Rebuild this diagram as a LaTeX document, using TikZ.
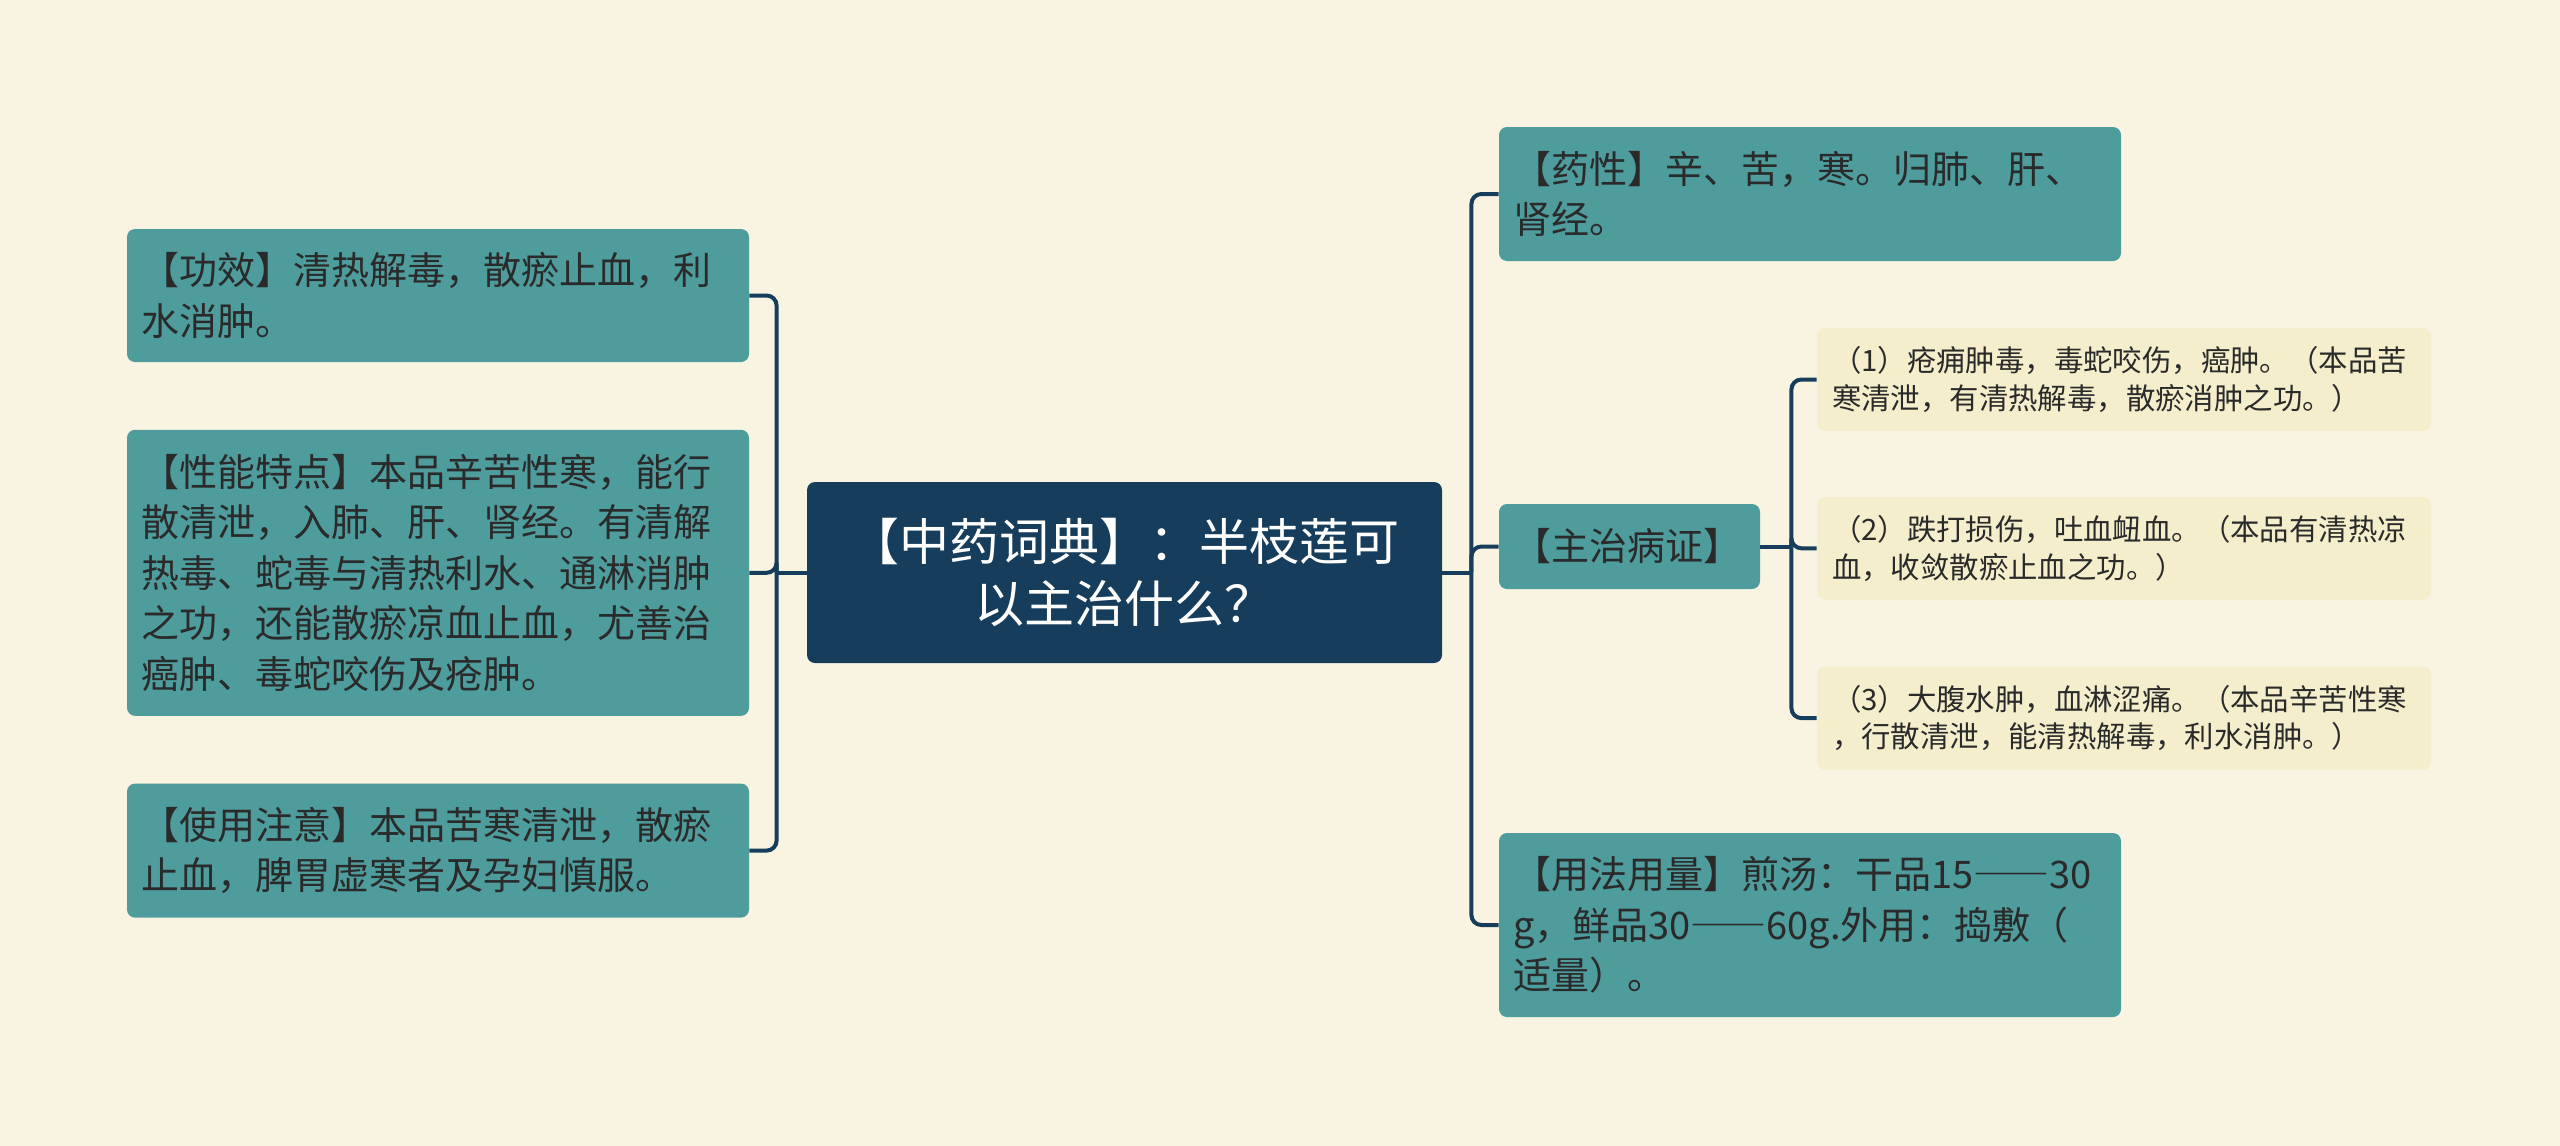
\documentclass[tikz,border=0pt]{standalone}
\usepackage{fontspec}
\newfontfamily\cjk{Noto Sans CJK SC}
\newcommand{\widedash}{{\addfontfeatures{RawFeature=+fwid}——}}
\usepackage{tikz}
\usetikzlibrary{positioning, calc}
\definecolor{stpaper}{HTML}{F9F4E1}
\definecolor{stteal}{HTML}{4E9C9B}
\definecolor{stnavy}{HTML}{173D5C}
\definecolor{stcream}{HTML}{F4EECD}
\definecolor{stink}{HTML}{2A2A2A}

\begin{document}
\begin{tikzpicture}[
  x=0.5pt, y=-0.5pt,
  node distance=33.5pt,
  rootbox/.style={
    rectangle, rounded corners=4pt, fill=stnavy, text=white,
    minimum width=317.5pt, minimum height=90.5pt, text width=300pt,
    font=\cjk\fontsize{25}{31}\selectfont, align=center
  },
  branch/.style={
    rectangle, rounded corners=4pt, fill=stteal, text=stink,
    minimum width=311pt, text width=297pt, inner xsep=7pt,
    font=\cjk\fontsize{19}{25.2}\selectfont, align=left
  },
  leaf/.style={
    rectangle, rounded corners=4pt, fill=stcream, text=stink,
    minimum width=307pt, minimum height=51.5pt, text width=292pt, inner xsep=7.5pt,
    font=\cjk\fontsize{14.7}{18.8}\selectfont, align=left
  },
  link/.style={line width=2pt, color=stnavy, rounded corners=5pt},
]
\useasboundingbox[fill=stpaper] (0,0) rectangle (2560,1146);

% Root
\node[rootbox] (root) at (1124.5,572.5) {【中药词典】：半枝莲可\\以主治什么？};

% Left side
\node[branch, minimum height=66.5pt] (gongxiao) at (438,295.5)
  {【功效】清热解毒，散瘀止血，利\\水消肿。};
\node[branch, minimum height=143pt, below=of gongxiao] (xingneng)
  {【性能特点】本品辛苦性寒，能行\\散清泄，入肺、肝、肾经。有清解\\热毒、蛇毒与清热利水、通淋消肿\\之功，还能散瘀凉血止血，尤善治\\癌肿、毒蛇咬伤及疮肿。};
\node[branch, minimum height=67pt, below=of xingneng] (shiyong)
  {【使用注意】本品苦寒清泄，散瘀\\止血，脾胃虚寒者及孕妇慎服。};

% Right side
\node[branch, minimum height=67pt] (yaoxing) at (1810,194)
  {【药性】辛、苦，寒。归肺、肝、\\肾经。};
\node[branch, minimum width=130.5pt, text width=116.5pt, minimum height=42.5pt] (zhuzhi) at (1629.5,546.5)
  {【主治病证】};
\node[branch, minimum height=92pt] (yongfa) at (1810,925)
  {【用法用量】煎汤：干品15\widedash30\\g，鲜品30\widedash60g.外用：捣敷（\\适量）。};

% Sub items
\node[leaf] (sub1) at (2124,379.5)
  {（1）疮痈肿毒，毒蛇咬伤，癌肿。（本品苦\\寒清泄，有清热解毒，散瘀消肿之功。）};
\node[leaf, below=32.5pt of sub1] (sub2)
  {（2）跌打损伤，吐血衄血。（本品有清热凉\\血，收敛散瘀止血之功。）};
\node[leaf, below=33pt of sub2] (sub3)
  {（3）大腹水肿，血淋涩痛。（本品辛苦性寒\\，行散清泄，能清热解毒，利水消肿。）};

% Connectors
\coordinate (lj) at ($(root.west)+(-30,0)$);
\coordinate (rj) at ($(root.east)+(29,0)$);
\coordinate (sj) at ($(zhuzhi.east)+(31,0)$);
\draw[link] (root.west) -- (lj);
\draw[link] (root.east) -- (rj);
\draw[link] (zhuzhi.east) -- (sj);
\foreach \n in {gongxiao, xingneng, shiyong}
  \draw[link] (lj) |- (\n.east);
\foreach \n in {yaoxing, zhuzhi, yongfa}
  \draw[link] (rj) |- (\n.west);
\foreach \n in {sub1, sub2, sub3}
  \draw[link] (sj) |- (\n.west);

\end{tikzpicture}
\end{document}
